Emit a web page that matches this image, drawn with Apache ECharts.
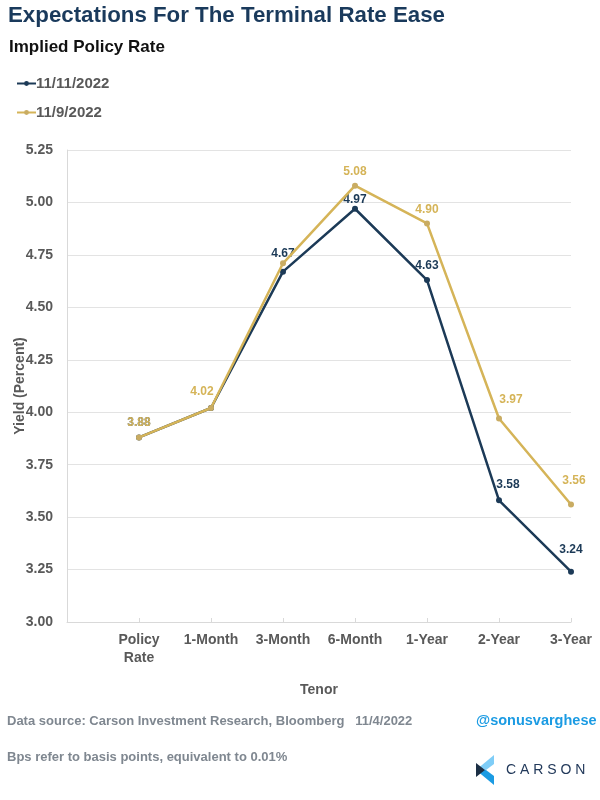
<!DOCTYPE html>
<html>
<head>
<meta charset="utf-8">
<script src="https://cdn.jsdelivr.net/npm/echarts@6/dist/echarts.min.js"></script>
<style>
html,body{margin:0;padding:0;background:#fff;}
#c{width:600px;height:800px;}
</style>
</head>
<body>
<div id="c"></div>
<script>
const categories = ['', 'Policy\nRate', '1-Month', '3-Month', '6-Month', '1-Year', '2-Year', '3-Year'];
const nov11 = [null, 3.88, 4.02, 4.67, 4.97, 4.63, 3.58, 3.24];
const nov9 = [null, 3.88, 4.02, 4.71, 5.08, 4.90, 3.97, 3.56];
const yTicks = [3.00, 3.25, 3.50, 3.75, 4.00, 4.25, 4.50, 4.75, 5.00, 5.25];

const NAVY = '#1c3a57';
const GOLD = '#d5b458';
const GRAY = '#595959';
const FONT = '"Liberation Sans", Arial, sans-serif';

// label offsets [dx, dy] per point (styling only)
const off11 = [null, [0,-1], [-9,-2], [0,-4], [0,5], [0,0], [9,-2], [0,-8]];
const off9  = [null, [0,-1], [-9,-2], [0,-4], [0,0], [0,0], [12,-5], [3,-10]];
const hide11 = [false, false, true, false, false, false, false, false];
const hide9 = [false, false, false, true, false, false, false, false];

function mk(vals, offs, color, hide) {
  return vals.map((v, i) => {
    if (v === null) return null;
    return {
      value: v,
      label: {
        show: !(hide && hide[i]),
        position: 'top',
        offset: offs[i],
        color: color,
        fontWeight: 'bold',
        fontSize: 12,
        fontFamily: FONT,
        formatter: (p) => p.value.toFixed(2)
      }
    };
  });
}

const chart = echarts.init(document.getElementById('c'), null, {renderer: 'canvas'});
chart.setOption({
  backgroundColor: '#fff',
  animation: false,
  textStyle: {fontFamily: FONT},
  grid: {left: 67, right: 29, top: 150, bottom: 178, containLabel: false, outerBoundsMode: 'none'},
  legend: {
    orient: 'vertical',
    left: 11,
    top: 71,
    itemGap: 14,
    itemWidth: 19,
    itemHeight: 6,
    data: ['11/11/2022', '11/9/2022'],
    textStyle: {color: GRAY, fontWeight: 'bold', fontSize: 15, fontFamily: FONT, padding: [0, 0, 0, -5]}
  },
  xAxis: {
    type: 'category',
    data: categories,
    boundaryGap: false,
    name: 'Tenor',
    nameLocation: 'middle',
    nameGap: 61,
    nameMoveOverlap: false,
    nameTextStyle: {color: GRAY, fontWeight: 'bold', fontSize: 14, fontFamily: FONT},
    axisLine: {show: true, lineStyle: {color: '#d9d9d9', width: 1}},
    axisTick: {show: true, inside: true, length: 4, lineStyle: {color: '#d9d9d9'}},
    axisLabel: {color: GRAY, fontWeight: 'bold', fontSize: 14, margin: 9, lineHeight: 18, fontFamily: FONT, interval: 0},
    splitLine: {show: false}
  },
  yAxis: {
    type: 'value',
    min: yTicks[0],
    max: yTicks[yTicks.length - 1],
    interval: 0.25,
    name: 'Yield (Percent)',
    nameLocation: 'middle',
    nameGap: 40,
    nameMoveOverlap: false,
    nameTextStyle: {color: GRAY, fontWeight: 'bold', fontSize: 14, fontFamily: FONT},
    axisLine: {show: true, lineStyle: {color: '#d9d9d9', width: 1}},
    axisTick: {show: false},
    axisLabel: {color: GRAY, fontWeight: 'bold', fontSize: 14, margin: 14, fontFamily: FONT, formatter: (v) => v.toFixed(2)},
    splitLine: {show: true, lineStyle: {color: '#e3e3e3', width: 1}}
  },
  series: [
    {
      name: '11/11/2022',
      type: 'line',
      data: mk(nov11, off11, NAVY, hide11),
      color: NAVY,
      symbol: 'circle',
      symbolSize: 6,
      lineStyle: {width: 2.5, color: NAVY},
      itemStyle: {color: NAVY},
      z: 2
    },
    {
      name: '11/9/2022',
      type: 'line',
      data: mk(nov9, off9, GOLD, hide9),
      color: GOLD,
      symbol: 'circle',
      symbolSize: 6,
      lineStyle: {width: 2.5, color: GOLD},
      itemStyle: {color: '#c9ac62'},
      z: 3
    }
  ],
  graphic: [
    {type: 'text', left: 8, top: 5, style: {text: 'Expectations For The Terminal Rate Ease', fill: '#1a3a5c', font: 'bold 22.3px ' + FONT}},
    {type: 'text', left: 9, top: 39, style: {text: 'Implied Policy Rate', fill: '#111', font: 'bold 17px ' + FONT}},
    {type: 'text', left: 7, top: 715, style: {text: 'Data source: Carson Investment Research, Bloomberg   11/4/2022', fill: '#7f8790', font: 'bold 13px ' + FONT}},
    {type: 'text', left: 7, top: 751, style: {text: 'Bps refer to basis points, equivalent to 0.01%', fill: '#7f8790', font: 'bold 13px ' + FONT}},
    {type: 'text', left: 476, top: 713, style: {text: '@sonusvarghese', fill: '#1b9be3', font: 'bold 14.5px ' + FONT}},
    {type: 'polygon', shape: {points: [[476, 770], [494, 755], [494, 764], [486, 770]]}, style: {fill: '#7fcdf7'}},
    {type: 'polygon', shape: {points: [[476, 770], [486, 770], [494, 776], [494, 785]]}, style: {fill: '#1b9be3'}},
    {type: 'polygon', shape: {points: [[476, 763], [485, 770], [476, 777]]}, style: {fill: '#1c2f45'}},
    {type: 'text', left: 506, top: 763, style: {text: 'C A R S O N', fill: '#22395a', font: '14px ' + FONT}}
  ]
});
</script>
</body>
</html>
